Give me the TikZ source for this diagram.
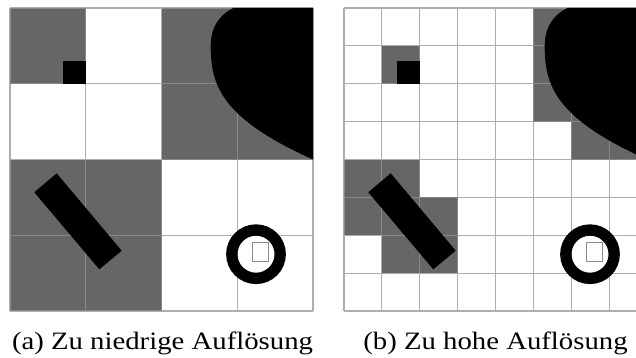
\documentclass[tikz,border=0pt]{standalone}
\usepackage{fontspec}
\setmainfont{Liberation Serif}
\usepackage{graphicx}
\definecolor{cellgray}{HTML}{666666}
\definecolor{gridgray}{HTML}{949494}
\definecolor{boxgray}{HTML}{8C8C8C}
\tikzset{
  cellfill/.style={fill=cellgray},
  gridline/.style={draw=gridgray, draw opacity=0.75, line width=1.1pt},
  blackfill/.style={fill=black},
  ringline/.style={draw=black, line width=11.3pt},
  smallbox/.style={draw=boxgray, line width=1pt},
  capt/.style={font=\fontsize{25}{30}\selectfont, anchor=base, inner sep=0pt}
}
\newcommand\myobjects{%
  \fill[blackfill] (223.3,0) .. controls (208,8) and (200.7,20) .. (200.7,38.7)
     .. controls (200.7,78.7) and (213,111) .. (303,151.5) -- (303,0) -- cycle;
  \fill[blackfill] (24.3,184.3) -- (46.7,165.3) -- (111.7,242.7) -- (89.3,261.3) -- cycle;
  \fill[blackfill] (53,52.7) rectangle (75.75,75.75);
  \draw[ringline] (246,246.2) circle (24.2);
  \draw[smallbox] (242.3,234.3) rectangle (258.7,253.7);
}
\begin{document}
\begin{tikzpicture}[x=1pt,y=-1pt]
\useasboundingbox (0,0) rectangle (636,358);
\fill[white] (0,0) rectangle (636,358);
\clip (0,0) rectangle (636,358);
% left panel
\begin{scope}[shift={(10,8)}]
  \foreach \c/\r in {0/0,2/0,3/0,2/1,3/1,0/2,1/2,0/3,1/3}
    \fill[cellfill] (\c*75.75,\r*75.75) rectangle ++(75.75,75.75);
  \draw[gridline] \foreach \i in {0,...,4} {(\i*75.75,0) -- (\i*75.75,303) (0,\i*75.75) -- (303,\i*75.75)};
  \myobjects
\end{scope}
% right panel
\begin{scope}[shift={(344,8)}]
  \foreach \c/\r in {5/0,6/0,7/0,1/1,5/1,6/1,7/1,5/2,6/2,7/2,6/3,7/3,0/4,1/4,0/5,1/5,2/5,1/6,2/6}
    \fill[cellfill] (\c*37.875,\r*37.875) rectangle ++(37.875,37.875);
  \draw[gridline] \foreach \i in {0,...,8} {(\i*37.875,0) -- (\i*37.875,303) (0,\i*37.875) -- (303,\i*37.875)};
  \myobjects
\end{scope}
\node[capt] (capa) at (162.5,349) {\scalebox{1.15}[1]{(a) Zu niedrige Auflösung}};
\node[capt] (capb) at (495.5,349) {\scalebox{1.15}[1]{(b) Zu hohe Auflösung}};
\end{tikzpicture}
\end{document}
